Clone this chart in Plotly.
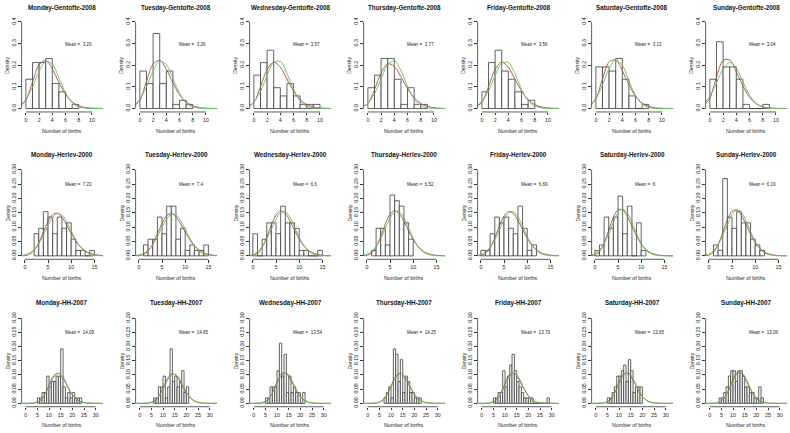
import plotly.graph_objects as go

# ---------------------------------------------------------
# DATA
# ---------------------------------------------------------

days = ["Monday", "Tuesday", "Wednesday", "Thursday", "Friday", "Saturday", "Sunday"]
sites = ["Gentofte-2008", "Herlev-2000", "HH-2007"]

means = [
    [3.29, 3.26, 3.57, 3.77, 3.56, 3.13, 3.04],
    [7.23, 7.4, 6.6, 6.52, 6.69, 6, 6.19],
    [14.09, 14.65, 13.54, 14.25, 13.79, 13.65, 13.06],
]

# first bin (left edge) of each histogram, bins are 1 birth wide
bar_start = [
    [0, 0, 0, 0, 0, 0, 0],
    [2, 1, 0, 1, 0, 0, 1],
    [5, 6, 5, 7, 5, 5, 4],
]

gentofte_bars = [
    [0.135, 0.212, 0.212, 0.231, 0.115, 0.077, 0, 0.019],
    [0.173, 0.115, 0.346, 0.115, 0.173, 0.019, 0.038, 0.019],
    [0.154, 0.212, 0.269, 0.096, 0.058, 0.115, 0.058, 0.019, 0.019, 0.019],
    [0.096, 0.154, 0.231, 0.231, 0.135, 0.019, 0.096, 0.019, 0.019],
    [0.077, 0.212, 0.269, 0.173, 0.135, 0.077, 0.019, 0.038],
    [0.192, 0.192, 0.173, 0.231, 0.135, 0.058, 0, 0.019],
    [0.135, 0.308, 0.192, 0.192, 0.135, 0.019, 0, 0, 0.019],
]
herlev_bars = [
    [0.077, 0.096, 0.154, 0.135, 0.077, 0.135, 0.096, 0.115, 0.058, 0.019, 0.019, 0, 0.019],
    [0.038, 0.058, 0.058, 0.135, 0.077, 0.173, 0.173, 0.058, 0.096, 0.019, 0.038, 0.019, 0.019, 0.038],
    [0.077, 0, 0.058, 0.115, 0.115, 0.077, 0.173, 0.115, 0.115, 0.096, 0.019, 0.019, 0, 0, 0.019],
    [0.019, 0.096, 0.096, 0.038, 0.212, 0.192, 0.173, 0.115, 0.058],
    [0.019, 0.019, 0.077, 0.135, 0.115, 0.135, 0.096, 0.077, 0.173, 0.096, 0.019, 0.038],
    [0.019, 0.038, 0.135, 0.096, 0.135, 0.208, 0.077, 0.173, 0, 0.115, 0.019],
    [0.038, 0.019, 0.269, 0.135, 0.096, 0.154, 0.115, 0.115, 0.058, 0.038, 0.019],
]
hh_bars = [
    [0.019, 0.019, 0.038, 0.038, 0.096, 0.058, 0.077, 0.077, 0.096, 0.096, 0.192, 0.058,
     0.019, 0.038, 0.019, 0.038, 0.019, 0.019, 0.019],
    [0.019, 0.019, 0.058, 0.058, 0.096, 0.019, 0.058, 0.192, 0.077, 0.096, 0.058, 0.077,
     0.115, 0.038, 0.058],
    [0.019, 0.019, 0.058, 0.058, 0.058, 0.115, 0.212, 0.096, 0.173, 0.038, 0.096, 0.038,
     0.058, 0.038, 0.038, 0, 0.038],
    [0.019, 0.038, 0.058, 0.019, 0.192, 0.173, 0.077, 0.154, 0.038, 0.096, 0.077, 0.038,
     0.038, 0.019, 0.019, 0.019],
    [0.019, 0.019, 0.038, 0.038, 0.115, 0.058, 0.096, 0.135, 0.173, 0.115, 0.077, 0.058,
     0.038, 0.019, 0.019, 0.019, 0.019, 0, 0, 0, 0, 0, 0, 0.019],
    [0.019, 0.019, 0.038, 0.058, 0.096, 0.096, 0.115, 0.135, 0.077, 0.154, 0.115, 0.038,
     0.058, 0.058, 0.058],
    [0.019, 0.019, 0.038, 0.058, 0.096, 0.115, 0.115, 0.077, 0.115, 0.115, 0.096, 0.058,
     0.058, 0.038, 0.038, 0.019, 0.019, 0.058, 0.019],
]
bar_density = [gentofte_bars, herlev_bars, hh_bars]

# fitted curves, read at these x positions
gentofte_x = [-0.6, 0, 1, 2, 3, 4, 5, 6, 7, 8, 9, 10, 11, 11.7]
herlev_x = [-0.7, 0, 1, 2, 3, 4, 5, 6, 7, 8, 9, 10, 11, 12, 13, 14, 15, 16, 16.9]
hh_x = [-1.7, 0, 2, 4, 6, 8, 10, 12, 14, 16, 18, 20, 22, 24, 26, 28, 30, 32, 33.2]
curve_x = [gentofte_x, herlev_x, hh_x]

gentofte_normal = [
    [0.0219, 0.0423, 0.0991, 0.1709, 0.2176, 0.2041, 0.1411, 0.0719, 0.0270, 0.0075, 0.0015, 0.0002, 0, 0],
    [0.0227, 0.0435, 0.1010, 0.1730, 0.2181, 0.2027, 0.1389, 0.0701, 0.0261, 0.0071, 0.0014, 0.0002, 0, 0],
    [0.0144, 0.0300, 0.0790, 0.1519, 0.2129, 0.2176, 0.1623, 0.0883, 0.0350, 0.0101, 0.0021, 0.0003, 0, 0],
    [0.0116, 0.0247, 0.0678, 0.1367, 0.2022, 0.2198, 0.1755, 0.1029, 0.0443, 0.0140, 0.0033, 0.0006, 0.0001, 0],
    [0.0161, 0.0324, 0.0815, 0.1518, 0.2091, 0.2129, 0.1603, 0.0892, 0.0367, 0.0112, 0.0025, 0.0004, 0, 0],
    [0.0245, 0.0472, 0.1093, 0.1839, 0.2248, 0.1997, 0.1290, 0.0606, 0.0207, 0.0051, 0.0009, 0.0001, 0, 0],
    [0.0326, 0.0574, 0.1178, 0.1821, 0.2122, 0.1863, 0.1232, 0.0615, 0.0231, 0.0065, 0.0014, 0.0002, 0, 0],
]
gentofte_poisson = [
    [0.019, 0.0373, 0.1227, 0.2019, 0.2214, 0.1821, 0.1198, 0.0657, 0.0309, 0.0127, 0.0046, 0.0015, 0.0005, 0.0002],
    [0.019, 0.0384, 0.1252, 0.2041, 0.2218, 0.1808, 0.1179, 0.0640, 0.0298, 0.0122, 0.0044, 0.0014, 0.0004, 0.0002],
    [0.014, 0.0282, 0.1005, 0.1795, 0.2136, 0.1906, 0.1361, 0.0810, 0.0413, 0.0184, 0.0073, 0.0026, 0.0009, 0.0004],
    [0.012, 0.0231, 0.0869, 0.1638, 0.2059, 0.1940, 0.1463, 0.0919, 0.0495, 0.0233, 0.0098, 0.0037, 0.0013, 0.0006],
    [0.014, 0.0284, 0.1012, 0.1801, 0.2137, 0.1902, 0.1354, 0.0804, 0.0409, 0.0182, 0.0072, 0.0026, 0.0008, 0.0004],
    [0.022, 0.0437, 0.1368, 0.2142, 0.2234, 0.1748, 0.1095, 0.0571, 0.0255, 0.0100, 0.0035, 0.0011, 0.0003, 0.0001],
    [0.024, 0.0478, 0.1454, 0.2210, 0.2239, 0.1702, 0.1035, 0.0524, 0.0228, 0.0086, 0.0029, 0.0009, 0.0003, 0.0001],
]
herlev_normal = [
    [0.0019, 0.0040, 0.0101, 0.0224, 0.0431, 0.0722, 0.1052, 0.1337, 0.1479, 0.1424, 0.1195, 0.0873, 0.0555, 0.0308, 0.0148, 0.0062, 0.0023, 0.0007, 0.0002],
    [0.0017, 0.0036, 0.0092, 0.0205, 0.0396, 0.0672, 0.0994, 0.1285, 0.1451, 0.1432, 0.1234, 0.0929, 0.0611, 0.0351, 0.0176, 0.0077, 0.0030, 0.0010, 0.0003],
    [0.0027, 0.0057, 0.0144, 0.0312, 0.0582, 0.0931, 0.1279, 0.1511, 0.1534, 0.1339, 0.1004, 0.0647, 0.0358, 0.0171, 0.0070, 0.0025, 0.0007, 0.0002, 0.0001],
    [0.0029, 0.0060, 0.0151, 0.0326, 0.0604, 0.0960, 0.1309, 0.1531, 0.1536, 0.1321, 0.0975, 0.0617, 0.0335, 0.0156, 0.0062, 0.0021, 0.0006, 0.0002, 0],
    [0.0026, 0.0054, 0.0137, 0.0298, 0.0558, 0.0898, 0.1246, 0.1488, 0.1531, 0.1357, 0.1035, 0.0680, 0.0385, 0.0188, 0.0079, 0.0028, 0.0009, 0.0002, 0.0001],
    [0.0039, 0.0081, 0.0202, 0.0429, 0.0770, 0.1167, 0.1499, 0.1629, 0.1499, 0.1167, 0.0770, 0.0429, 0.0202, 0.0081, 0.0027, 0.0008, 0.0002, 0, 0],
    [0.0035, 0.0073, 0.0182, 0.0388, 0.0705, 0.1089, 0.1431, 0.1599, 0.1521, 0.1231, 0.0848, 0.0497, 0.0248, 0.0105, 0.0038, 0.0012, 0.0003, 0.0001, 0],
]
herlev_poisson = [
    [0.0002, 0.0007, 0.0052, 0.0190, 0.0457, 0.0825, 0.1194, 0.1438, 0.1486, 0.1343, 0.1079, 0.0780, 0.0513, 0.0309, 0.0172, 0.0089, 0.0043, 0.0019, 0.0009],
    [0.0002, 0.0006, 0.0045, 0.0167, 0.0413, 0.0764, 0.1130, 0.1394, 0.1473, 0.1363, 0.1121, 0.0829, 0.0558, 0.0344, 0.0196, 0.0104, 0.0051, 0.0024, 0.0011],
    [0.0004, 0.0014, 0.0090, 0.0296, 0.0652, 0.1076, 0.1420, 0.1562, 0.1472, 0.1215, 0.0891, 0.0588, 0.0353, 0.0194, 0.0099, 0.0046, 0.0020, 0.0008, 0.0004],
    [0.0004, 0.0015, 0.0096, 0.0313, 0.0681, 0.1110, 0.1447, 0.1573, 0.1465, 0.1194, 0.0865, 0.0564, 0.0334, 0.0182, 0.0091, 0.0042, 0.0018, 0.0008, 0.0003],
    [0.0004, 0.0012, 0.0083, 0.0278, 0.0620, 0.1038, 0.1388, 0.1548, 0.1479, 0.1237, 0.0920, 0.0615, 0.0374, 0.0209, 0.0107, 0.0051, 0.0023, 0.0010, 0.0004],
    [0.0008, 0.0025, 0.0149, 0.0446, 0.0892, 0.1339, 0.1606, 0.1606, 0.1377, 0.1033, 0.0688, 0.0413, 0.0225, 0.0113, 0.0052, 0.0022, 0.0009, 0.0003, 0.0001],
    [0.0006, 0.0020, 0.0127, 0.0393, 0.0810, 0.1254, 0.1552, 0.1601, 0.1416, 0.1096, 0.0754, 0.0466, 0.0263, 0.0135, 0.0065, 0.0029, 0.0012, 0.0005, 0.0002],
]
hh_normal = [
    [0, 0.0001, 0.0006, 0.0029, 0.0104, 0.0285, 0.0587, 0.0910, 0.1063, 0.0934, 0.0618, 0.0308, 0.0115, 0.0033, 0.0007, 0.0001, 0, 0, 0],
    [0, 0.0001, 0.0004, 0.0022, 0.0081, 0.0230, 0.0498, 0.0820, 0.1027, 0.0979, 0.0711, 0.0392, 0.0165, 0.0053, 0.0013, 0.0002, 0, 0, 0],
    [0, 0.0001, 0.0008, 0.0038, 0.0133, 0.0349, 0.0682, 0.0993, 0.1076, 0.0867, 0.0520, 0.0232, 0.0077, 0.0019, 0.0004, 0, 0, 0, 0],
    [0, 0.0001, 0.0005, 0.0027, 0.0097, 0.0268, 0.0561, 0.0885, 0.1055, 0.0949, 0.0645, 0.0331, 0.0129, 0.0038, 0.0008, 0.0001, 0, 0, 0],
    [0, 0.0001, 0.0007, 0.0033, 0.0119, 0.0318, 0.0638, 0.0956, 0.1072, 0.0900, 0.0565, 0.0265, 0.0093, 0.0024, 0.0005, 0.0001, 0, 0, 0],
    [0, 0.0001, 0.0008, 0.0036, 0.0127, 0.0336, 0.0663, 0.0977, 0.1075, 0.0882, 0.0540, 0.0247, 0.0084, 0.0021, 0.0004, 0.0001, 0, 0, 0],
    [0, 0.0002, 0.0010, 0.0048, 0.0164, 0.0414, 0.0771, 0.1058, 0.1067, 0.0793, 0.0434, 0.0175, 0.0052, 0.0011, 0.0002, 0, 0, 0, 0],
]
hh_poisson = [
    [0, 0, 0.0001, 0.0013, 0.0083, 0.0293, 0.0646, 0.0972, 0.1060, 0.0877, 0.0569, 0.0297, 0.0128, 0.0046, 0.0014, 0.0004, 0.0001, 0, 0],
    [0, 0, 0.0001, 0.0008, 0.0060, 0.0228, 0.0545, 0.0886, 0.1045, 0.0933, 0.0655, 0.0370, 0.0172, 0.0067, 0.0022, 0.0006, 0.0002, 0, 0],
    [0, 0, 0.0001, 0.0018, 0.0113, 0.0369, 0.0752, 0.1044, 0.1051, 0.0803, 0.0481, 0.0232, 0.0092, 0.0031, 0.0009, 0.0002, 0, 0, 0],
    [0, 0, 0.0001, 0.0011, 0.0075, 0.0273, 0.0617, 0.0949, 0.1058, 0.0896, 0.0594, 0.0317, 0.0140, 0.0051, 0.0016, 0.0004, 0.0001, 0, 0],
    [0, 0, 0.0001, 0.0015, 0.0098, 0.0333, 0.0703, 0.1013, 0.1058, 0.0837, 0.0521, 0.0260, 0.0107, 0.0037, 0.0011, 0.0003, 0.0001, 0, 0],
    [0, 0, 0.0001, 0.0017, 0.0106, 0.0353, 0.0730, 0.1030, 0.1055, 0.0818, 0.0499, 0.0244, 0.0099, 0.0033, 0.0010, 0.0002, 0, 0, 0],
    [0, 0, 0.0002, 0.0026, 0.0147, 0.0446, 0.0847, 0.1094, 0.1025, 0.0728, 0.0406, 0.0182, 0.0067, 0.0021, 0.0005, 0.0001, 0, 0, 0],
]
normal_y = [gentofte_normal, herlev_normal, hh_normal]
poisson_y = [gentofte_poisson, herlev_poisson, hh_poisson]

x_ticks = [[0, 2, 4, 6, 8, 10], [0, 5, 10, 15], [0, 5, 10, 15, 20, 25, 30]]
y_ticks = [
    [0, 0.1, 0.2, 0.3, 0.4],
    [0, 0.05, 0.10, 0.15, 0.20, 0.25, 0.30],
    [0, 0.05, 0.10, 0.15, 0.20, 0.25, 0.30],
]
y_tick_text = [
    ["0.0", "0.1", "0.2", "0.3", "0.4"],
    ["0.00", "0.05", "0.10", "0.15", "0.20", "0.25", "0.30"],
    ["0.00", "0.05", "0.10", "0.15", "0.20", "0.25", "0.30"],
]


# ---------------------------------------------------------
# LAYOUT (pixels)
# ---------------------------------------------------------

W, H = 790, 433
FONT = "Liberation Sans, Arial, sans-serif"
GREEN = "#5cc25c"
RED = "#b04a40"
AXIS = "#333333"

col_left = [21.6 + 114.0 * c for c in range(7)]
panel_w = 81.6
row_top = [15.5, 164.8, 314.8]
row_bottom = [110, 258.7, 407.5]
title_y = [5.5, 153, 303]
xlab_y = [129, 278, 426]
x_range = [(-0.65, 11.7), (-0.7, 16.9), (-1.75, 33.2)]
y_range = [(-0.016, 0.416), (-0.012, 0.312), (-0.012, 0.312)]
mean_y = [0.295, 0.25, 0.25]

fig = go.Figure()
layout = {}
shapes = []
annotations = []

for r in range(3):
    for c in range(7):
        n = r * 7 + c + 1
        xa = "x" if n == 1 else f"x{n}"
        ya = "y" if n == 1 else f"y{n}"

        left = col_left[c]
        right = min(left + panel_w, W)
        lo, hi = x_range[r]
        hi = lo + (hi - lo) * (right - left) / panel_w

        # histogram
        start = bar_start[r][c]
        dens = bar_density[r][c]
        fig.add_trace(go.Bar(
            x=[start + i + 0.5 for i in range(len(dens))],
            y=dens,
            width=1,
            marker=dict(color="white", line=dict(color="#3a3a3a", width=0.8)),
            xaxis=xa, yaxis=ya, hoverinfo="skip",
        ))

        # fitted curves
        fig.add_trace(go.Scatter(
            x=curve_x[r], y=poisson_y[r][c], mode="lines",
            line=dict(color=RED, width=0.9, shape="spline"),
            xaxis=xa, yaxis=ya, hoverinfo="skip",
        ))
        fig.add_trace(go.Scatter(
            x=curve_x[r], y=normal_y[r][c], mode="lines",
            line=dict(color=GREEN, width=0.9, shape="spline"),
            xaxis=xa, yaxis=ya, hoverinfo="skip",
        ))

        layout["xaxis" if n == 1 else f"xaxis{n}"] = dict(
            domain=[left / W, right / W], range=[lo, hi], anchor=ya,
            tickvals=x_ticks[r], ticks="outside", ticklen=2.5, tickwidth=0.7,
            tickcolor=AXIS, showline=False, showgrid=False, zeroline=False,
            tickfont=dict(family=FONT, size=5.3, color="#222"),
        )
        layout["yaxis" if n == 1 else f"yaxis{n}"] = dict(
            domain=[1 - row_bottom[r] / H, 1 - row_top[r] / H], range=list(y_range[r]),
            anchor=xa, tickvals=y_ticks[r], ticktext=y_tick_text[r], tickangle=-90,
            ticks="outside", ticklen=2.5, tickwidth=0.7, tickcolor=AXIS,
            showline=False, showgrid=False, zeroline=False,
            tickfont=dict(family=FONT, size=5.3, color="#222"),
        )

        # R style axis lines that only span the tick range
        shapes.append(dict(type="line", xref=xa, yref=f"{ya} domain",
                           x0=x_ticks[r][0], x1=x_ticks[r][-1], y0=0, y1=0,
                           line=dict(color=AXIS, width=0.8)))
        shapes.append(dict(type="line", xref=f"{xa} domain", yref=ya,
                           x0=0, x1=0, y0=y_ticks[r][0], y1=y_ticks[r][-1],
                           line=dict(color=AXIS, width=0.8)))

        annotations.append(dict(
            text=f"<b>{days[c]}-{sites[r]}</b>", xref="paper", yref="paper",
            x=(left + panel_w / 2) / W, y=1 - title_y[r] / H,
            xanchor="center", yanchor="middle", showarrow=False,
            font=dict(family=FONT, size=6.3, color="#111"),
        ))
        annotations.append(dict(
            text=f"Mean = \u00a0{means[r][c]}", xref=f"{xa} domain", yref=ya,
            x=0.51, y=mean_y[r], xanchor="left", yanchor="middle", showarrow=False,
            font=dict(family=FONT, size=4.5, color="#222"),
        ))
        annotations.append(dict(
            text="Density", xref="paper", yref="paper", textangle=-90,
            x=(left - 14) / W, y=1 - (row_top[r] + row_bottom[r]) / 2 / H,
            xanchor="center", yanchor="middle", showarrow=False,
            font=dict(family=FONT, size=5.0, color="#222"),
        ))
        annotations.append(dict(
            text="Number of births", xref="paper", yref="paper",
            x=(left + panel_w / 2) / W, y=1 - xlab_y[r] / H,
            xanchor="center", yanchor="middle", showarrow=False,
            font=dict(family=FONT, size=5.3, color="#222"),
        ))

fig.update_layout(
    width=W, height=H,
    margin=dict(l=0, r=0, t=0, b=0),
    paper_bgcolor="white", plot_bgcolor="white",
    showlegend=False,
    shapes=shapes, annotations=annotations,
    **layout,
)

# the page body has a default 8px margin; drop it so the figure sits at 0,0
fig.write_html(
    "out.html",
    config={"displayModeBar": False},
    post_script="document.body.style.margin='0px';",
)
